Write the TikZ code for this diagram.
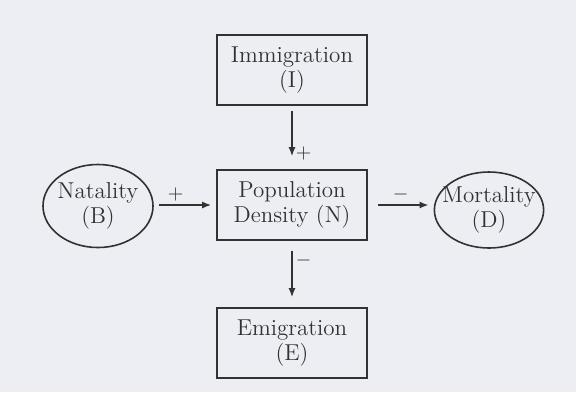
\documentclass[tikz,border=0pt]{standalone}
\usepackage{amsmath}
\usetikzlibrary{shapes.geometric,arrows.meta}
\definecolor{paper}{RGB}{236,238,243}
\definecolor{ink}{RGB}{50,50,50}

\begin{document}
\begin{tikzpicture}[x=0.5pt,y=-0.5pt,line width=0.8pt,draw=ink,text=ink,
    every node/.append style={font=\fontsize{11.5}{12.5}\selectfont},
    box/.style={draw,rectangle,minimum width=75pt,minimum height=35pt,align=center},
    blob/.style={draw,ellipse,inner ysep=0pt,inner xsep=-4pt,align=center},
    flow/.style={-{Latex[length=4.5pt,width=3.5pt]}},
    sign/.style={font=\fontsize{10}{10}\selectfont,inner sep=1.5pt}]
          \fill[paper] (0,0) rectangle (576,392);
          %\draw[very thin,lightgray] (0,0) grid[step=50] (576,392);
          \node[box] (pop) at (292,205) {Population\\Density (N)};
          \node[box] (imm) at (292,70) {Immigration\\(I)};
          \node[box] (emi) at (292,343) {Emigration\\(E)};
          \node[blob,minimum width=55pt,minimum height=41.5pt] (nat) at (98,206) {Natality\\(B)};
          \node[blob,minimum width=54pt,minimum height=38pt] (mor) at (489,210) {Mortality\\(D)};
          \draw[flow,shorten <=2.5pt,shorten >=6.5pt] (imm) -- node[sign,pos=0.75,right]{$+$} (pop);
          \draw[flow,shorten <=5pt,shorten >=5pt] (pop) -- node[sign,pos=0.3,right]{$-$} (emi);
          \draw[flow,shorten <=2.5pt,shorten >=2.5pt] (nat.east |- pop) -- node[sign,pos=0.35,above]{$+$} (pop.west); % arrow at box mid height
          \draw[flow,shorten <=5pt,shorten >=2.5pt] (pop.east) -- node[sign,above]{$-$} (pop.east -| mor.west);
        \end{tikzpicture}
\end{document}
